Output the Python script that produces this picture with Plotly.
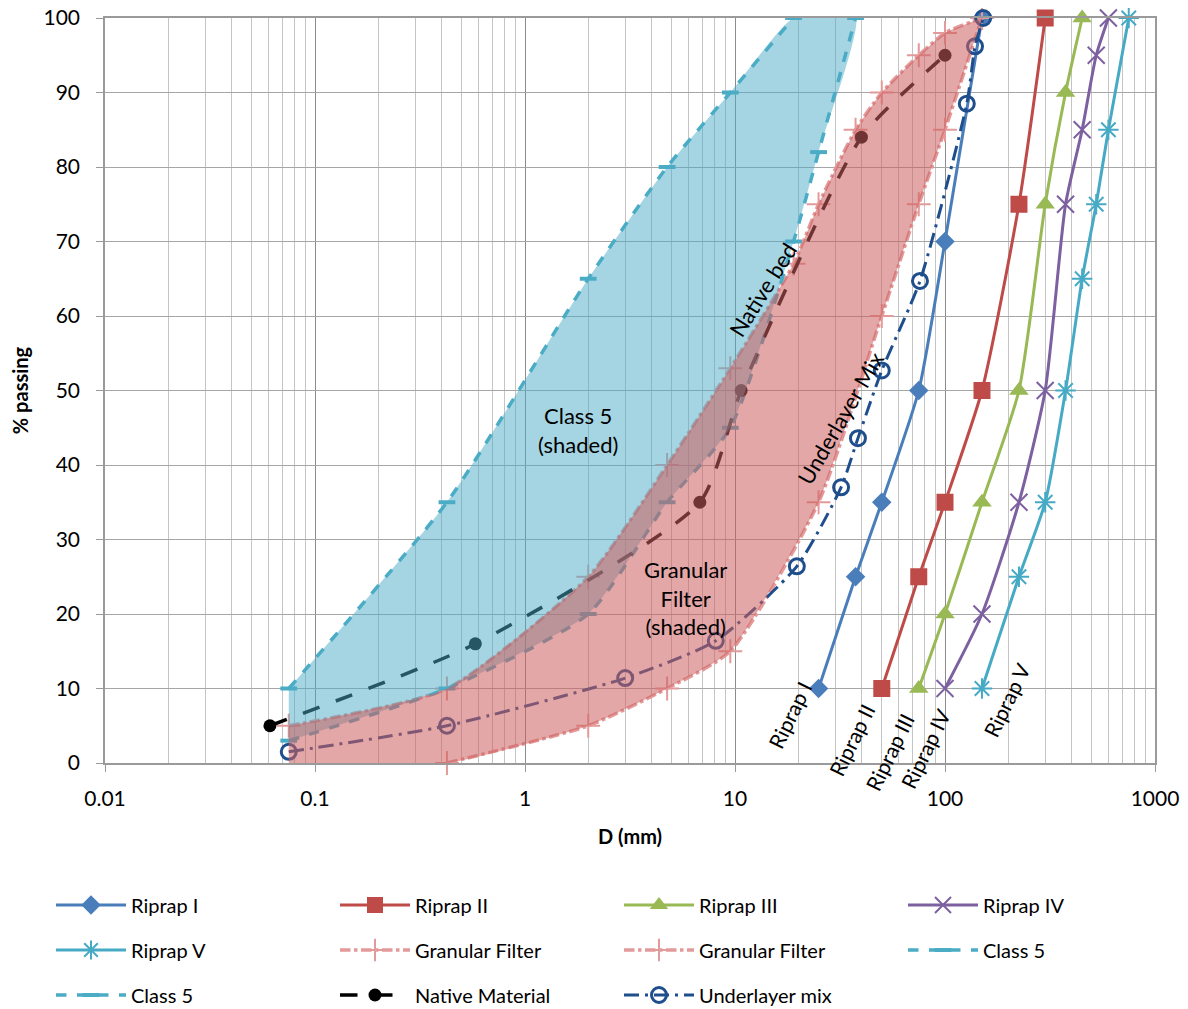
import plotly.graph_objects as go

# ---------------- data ----------------
riprap1_d = [25, 37.5, 50, 75, 100, 150]
riprap1_p = [10, 25, 35, 50, 70, 100]
riprap2_d = [50, 75, 100, 150, 225, 300]
riprap2_p = [10, 25, 35, 50, 75, 100]
riprap3_d = [75, 100, 150, 225, 300, 375, 450]
riprap3_p = [10, 20, 35, 50, 75, 90, 100]
riprap4_d = [100, 150, 225, 300, 375, 450, 525, 600]
riprap4_p = [10, 20, 35, 50, 75, 85, 95, 100]
riprap5_d = [150, 225, 300, 375, 450, 525, 600, 750]
riprap5_p = [10, 25, 35, 50, 65, 75, 85, 100]

gf_fine_d = [0.075, 0.425, 2, 4.75, 9.5, 19, 25, 37.5, 50, 75, 100, 150]
gf_fine_p = [5, 10, 25, 40, 53, 67, 75, 85, 90, 95, 98, 100]
gf_coarse_d = [0.425, 2, 4.75, 9.5, 25, 50, 75, 100, 150]
gf_coarse_p = [0, 5, 10, 15, 35, 60, 75, 85, 100]

c5_lower_d = [0.075, 0.425, 2, 4.75, 9.5, 19, 25, 37.5]
c5_lower_p = [3, 10, 20, 35, 45, 70, 82, 100]
c5_upper_d = [0.075, 0.425, 2, 4.75, 9.5, 19]
c5_upper_p = [10, 35, 65, 80, 90, 100]

native_d = [0.061, 0.58, 6.8, 10.7, 40, 100]
native_p = [5, 16, 35, 50, 84, 95]

under_d = [0.075, 0.425, 3.0, 8.1, 19.7, 32, 38.5, 50, 76, 127, 139, 152]
under_p = [1.5, 5, 11.4, 16.4, 26.4, 37, 43.6, 52.7, 64.7, 88.5, 96.2, 100]

x_tick_vals = [0.01, 0.1, 1, 10, 100, 1000]
x_tick_text = ["0.01", "0.1", "1", "10", "100", "1000"]

FONT = "Lato"

fig = go.Figure()

def line_trace(x, y, name, color, dash, width, symbol, msize, mcolor=None,
               mline=None, mlw=0, legend="legend"):
    return go.Scatter(
        x=x, y=y, name=name, mode="lines+markers", legend=legend,
        line=dict(color=color, width=width, dash=dash, shape="spline", smoothing=0.6),
        marker=dict(symbol=symbol, size=msize, color=mcolor or color,
                    line=dict(color=mline or color, width=mlw)),
        cliponaxis=False,
    )

# riprap series
fig.add_trace(line_trace(riprap1_d, riprap1_p, "Riprap I", "#4a7ebb", "solid", 3, "diamond", 15))
fig.add_trace(line_trace(riprap2_d, riprap2_p, "Riprap II", "#be4b48", "solid", 3, "square", 17))
fig.add_trace(line_trace(riprap3_d, riprap3_p, "Riprap III", "#98b954", "solid", 3, "triangle-up", 17))
fig.add_trace(line_trace(riprap4_d, riprap4_p, "Riprap IV", "#7d60a0", "solid", 3, "x-thin-open", 17,
                         mline="#7d60a0", mlw=2))
fig.add_trace(line_trace(riprap5_d, riprap5_p, "Riprap V", "#46aac5", "solid", 3, "asterisk-open", 17,
                         mline="#46aac5", mlw=2, legend="legend2"))
# granular filter
fig.add_trace(line_trace(gf_fine_d, gf_fine_p, "Granular Filter", "#e39a9a", "dashdot", 3.5,
                         "cross-thin-open", 17, mline="#e08888", mlw=2, legend="legend2"))
fig.add_trace(line_trace(gf_coarse_d, gf_coarse_p, "Granular Filter", "#e39a9a", "dashdot", 3.5,
                         "cross-thin-open", 17, mline="#e08888", mlw=2, legend="legend2"))
# class 5
fig.add_trace(line_trace(c5_lower_d, c5_lower_p, "Class 5", "#4bacc6", "dash", 3.5,
                         "line-ew-open", 12, mline="#b8c470", mlw=4, legend="legend2"))
fig.add_trace(line_trace(c5_upper_d, c5_upper_p, "Class 5", "#4bacc6", "dash", 3.5,
                         "line-ew-open", 12, mline="#d09a9a", mlw=4, legend="legend3"))
# native
fig.add_trace(line_trace(native_d, native_p, "Native Material", "#000000", "longdash", 3.5,
                         "circle", 13, legend="legend3"))
# underlayer
fig.add_trace(line_trace(under_d, under_p, "Underlayer mix", "#1f4e8c", "longdashdot", 3,
                         "circle-open", 15, mline="#1f4e8c", mlw=3, legend="legend3"))

# shaded areas (built from the bounds above)
c5_fill_x = c5_upper_d + c5_lower_d[::-1]
c5_fill_y = c5_upper_p + c5_lower_p[::-1]
fig.add_trace(go.Scatter(x=c5_fill_x, y=c5_fill_y, mode="lines", fill="toself",
                         fillcolor="rgba(75,172,198,0.5)", line=dict(width=0, shape="spline", smoothing=0.5),
                         showlegend=False, hoverinfo="skip"))
gf_fill_x = gf_fine_d + gf_coarse_d[::-1] + [gf_fine_d[0]]
gf_fill_y = gf_fine_p + gf_coarse_p[::-1] + [gf_coarse_p[0]]
fig.add_trace(go.Scatter(x=gf_fill_x, y=gf_fill_y, mode="lines", fill="toself",
                         fillcolor="rgba(205,95,95,0.55)", line=dict(width=0, shape="spline", smoothing=0.5),
                         showlegend=False, hoverinfo="skip"))

# positions below are given in screenshot pixels; plot area spans x 105..1155, y 18..763
def pf(x_px, y_px):
    return (x_px - 105) / 1050, (763 - y_px) / 745

def ann(xp, yp, text, angle=0, size=22):
    fx, fy = pf(xp, yp)
    fig.add_annotation(x=fx, y=fy, xref="paper", yref="paper", text=text, showarrow=False,
                       xanchor="center", yanchor="middle",
                       textangle=angle, font=dict(size=size, color="#000000", family=FONT),
                       align="center")

for (xp, yp, t, a, s) in [
    (578, 430, "Class 5<br>(shaded)", 0, 22),
    (685, 598, "Granular<br>Filter<br>(shaded)", 0, 22),
    (762, 290, "Native bed", -58, 22),
    (840, 418, "Underlayer Mix", -60, 22),
    (789, 715, "Riprap I", -64, 21),
    (851, 740, "Riprap II", -64, 21),
    (889, 752, "Riprap III", -64, 21),
    (925, 748, "Riprap IV", -64, 21),
    (1006, 700, "Riprap V", -64, 21),
]:
    ann(xp, yp, t, a, s)

legend_common = dict(orientation="h", xanchor="left", yanchor="middle", entrywidth=199,
                     entrywidthmode="pixels", font=dict(size=20, family=FONT, color="#000000"),
                     bgcolor="rgba(0,0,0,0)", itemwidth=70, traceorder="normal")
lx = (55 - 4 - 105) / 1050

# page body has an 8px margin: the figure is offset by (8, 8) in the screenshot
fig.update_layout(
    width=1180, height=1001,
    margin=dict(l=97, r=33, t=10, b=246, autoexpand=False),
    paper_bgcolor="white", plot_bgcolor="white",
    font=dict(family=FONT, size=20, color="#000000"),
    showlegend=True,
    legend=dict(x=lx, y=pf(0, 905)[1], **legend_common),
    legend2=dict(x=lx, y=pf(0, 950)[1], **legend_common),
    legend3=dict(x=lx, y=pf(0, 995)[1], **legend_common),
    xaxis=dict(type="log", range=[-2, 3], tickvals=x_tick_vals, ticktext=x_tick_text,
               showgrid=True, gridcolor="#8c8c8c", gridwidth=1,
               minor=dict(dtick="D1", showgrid=True, gridcolor="#c4c4c4", gridwidth=1),
               showline=True, linecolor="#9a9a9a", linewidth=1.5, mirror=True,
               ticks="outside", ticklen=7, tickcolor="#9a9a9a",
               tickfont=dict(size=21, family=FONT, color="#000000"),
               ticklabelstandoff=9, ticklabeloverflow="allow",
               title=dict(text="<b>D (mm)</b>", font=dict(size=20, family=FONT), standoff=21),
               zeroline=False, automargin=False),
    yaxis=dict(range=[0, 100], dtick=10, showgrid=True, gridcolor="#a6a6a6", gridwidth=1,
               showline=True, linecolor="#9a9a9a", linewidth=1.5, mirror=True,
               ticks="outside", ticklen=7, tickcolor="#9a9a9a",
               tickfont=dict(size=21, family=FONT, color="#000000"),
               ticklabelstandoff=12, ticklabeloverflow="allow",
               title=dict(text="<b>% passing</b>", font=dict(size=20, family=FONT), standoff=27),
               zeroline=False, automargin=False),
)

fig.write_html("out.html")
